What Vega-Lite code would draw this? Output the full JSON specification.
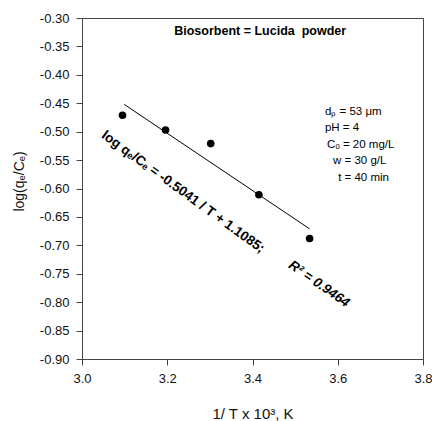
{
  "$schema": "https://vega.github.io/schema/vega-lite/v6.json",
  "width": 341,
  "height": 341,
  "autosize": {"type": "none"},
  "padding": {"left": 82, "top": 18, "right": 9, "bottom": 62},
  "background": "white",
  "config": {
    "view": {"stroke": "#444", "strokeWidth": 1},
    "font": "Liberation Sans",
    "axis": {
      "grid": false,
      "domainColor": "#444",
      "tickColor": "#444",
      "tickSize": 6,
      "labelFont": "Liberation Sans",
      "labelFontSize": 13,
      "labelColor": "#111",
      "titleFont": "Liberation Sans",
      "titleFontWeight": "normal",
      "titleColor": "#111"
    }
  },
  "datasets": {
    "points": [
      {"x": 3.095, "y": -0.471},
      {"x": 3.196, "y": -0.497},
      {"x": 3.302, "y": -0.521},
      {"x": 3.415, "y": -0.611},
      {"x": 3.534, "y": -0.688}
    ],
    "fit": [
      {"x": 3.099, "y": -0.452},
      {"x": 3.534, "y": -0.671}
    ],
    "title": [{"x": 3.418, "y": -0.323, "label": "Biosorbent = Lucida\u00a0 powder"}],
    "conditions": [
      {"x": 3.570, "y": -0.4654, "label": "dₚ = 53 μm"},
      {"x": 3.570, "y": -0.4936, "label": "pH = 4"},
      {"x": 3.575, "y": -0.5235, "label": "Cₒ = 20 mg/L"},
      {"x": 3.589, "y": -0.5516, "label": "w = 30 g/L"},
      {"x": 3.601, "y": -0.5815, "label": "t = 40 min"}
    ],
    "equation": [{"x": 3.237, "y": -0.606, "label": "log qₑ/Cₑ = -0.5041 / T + 1.1085;"}],
    "r2": [{"x": 3.556, "y": -0.768, "label": "R² = 0.9464"}]
  },
  "layer": [
    {
      "data": {"name": "fit"},
      "mark": {"type": "line", "color": "black", "strokeWidth": 1},
      "encoding": {
        "x": {
          "field": "x", "type": "quantitative",
          "scale": {"domain": [3.0, 3.8], "nice": false, "zero": false},
          "axis": {
            "values": [3.0, 3.2, 3.4, 3.6, 3.8],
            "tickCount": 10,
            "format": ".1f",
            "labelOverlap": false,
            "labelFlush": false,
            "labelPadding": 7,
            "title": "1/ T x 10³, K",
            "titleFontSize": 15,
            "titleY": 59,
            "titleBaseline": "alphabetic"
          }
        },
        "y": {
          "field": "y", "type": "quantitative",
          "scale": {"domain": [-0.9, -0.3], "nice": false, "zero": false},
          "axis": {
            "values": [-0.9, -0.85, -0.8, -0.75, -0.7, -0.65, -0.6, -0.55, -0.5, -0.45, -0.4, -0.35, -0.3],
            "tickCount": 20,
            "labelExpr": "replace(format(datum.value, '.2f'), '−', '-')",
            "labelOverlap": false,
            "labelFlush": false,
            "labelBound": false,
            "labelPadding": 7,
            "title": "log(qₑ/Cₑ)",
            "titleFontSize": 14,
            "titleAngle": -90,
            "titleX": -63,
            "titleY": 163,
            "titleAlign": "center",
            "titleBaseline": "middle"
          }
        }
      }
    },
    {
      "data": {"name": "points"},
      "mark": {"type": "point", "filled": true, "color": "black", "opacity": 1, "size": 58, "shape": "circle"},
      "encoding": {
        "x": {"field": "x", "type": "quantitative"},
        "y": {"field": "y", "type": "quantitative"}
      }
    },
    {
      "data": {"name": "title"},
      "mark": {"type": "text", "font": "Liberation Sans", "fontWeight": "bold", "fontSize": 12.5, "align": "center", "baseline": "middle", "color": "black"},
      "encoding": {
        "x": {"field": "x", "type": "quantitative"},
        "y": {"field": "y", "type": "quantitative"},
        "text": {"field": "label"}
      }
    },
    {
      "data": {"name": "conditions"},
      "mark": {"type": "text", "font": "Liberation Sans", "fontSize": 11.5, "align": "left", "baseline": "middle", "color": "black"},
      "encoding": {
        "x": {"field": "x", "type": "quantitative"},
        "y": {"field": "y", "type": "quantitative"},
        "text": {"field": "label"}
      }
    },
    {
      "data": {"name": "equation"},
      "mark": {"type": "text", "font": "Liberation Sans", "fontWeight": "bold", "fontSize": 13.5, "align": "center", "baseline": "middle", "angle": 36, "color": "black"},
      "encoding": {
        "x": {"field": "x", "type": "quantitative"},
        "y": {"field": "y", "type": "quantitative"},
        "text": {"field": "label"}
      }
    },
    {
      "data": {"name": "r2"},
      "mark": {"type": "text", "font": "Liberation Sans", "fontWeight": "bold", "fontStyle": "italic", "fontSize": 13.5, "align": "center", "baseline": "middle", "angle": 35, "color": "black"},
      "encoding": {
        "x": {"field": "x", "type": "quantitative"},
        "y": {"field": "y", "type": "quantitative"},
        "text": {"field": "label"}
      }
    }
  ]
}
